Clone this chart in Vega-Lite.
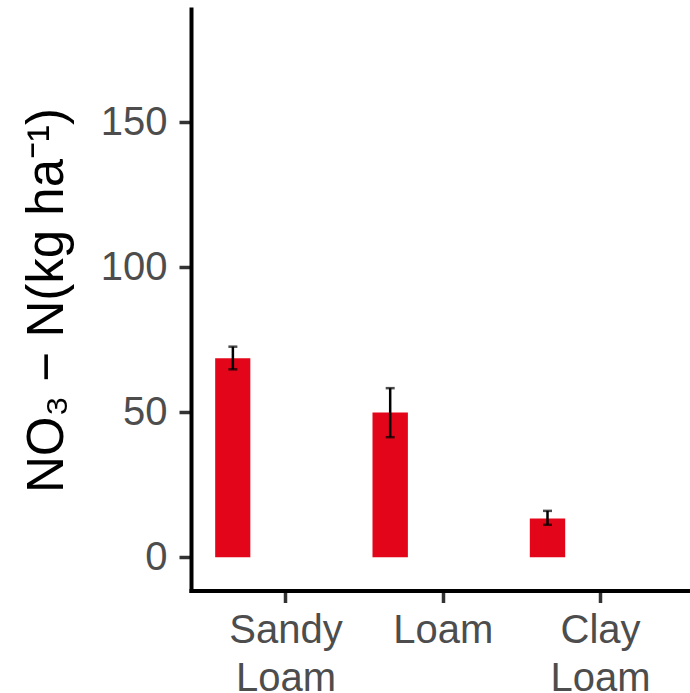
{
  "$schema": "https://vega.github.io/schema/vega-lite/v6.json",
  "width": 499,
  "height": 581.5,
  "autosize": "none",
  "padding": {"left": 191, "top": 9, "right": 0, "bottom": 102.5},
  "background": "white",
  "config": {"view": {"stroke": null}},
  "data": {
    "values": [
      {"soil": "Sandy Loam", "group": "a", "value": 68.6, "lo": 64.8, "hi": 72.6},
      {"soil": "Sandy Loam", "group": "b", "value": 135},
      {"soil": "Loam", "group": "a", "value": 49.9, "lo": 41.4, "hi": 58.3},
      {"soil": "Clay Loam", "group": "a", "value": 13.4, "lo": 11.2, "hi": 16.0}
    ]
  },
  "encoding": {
    "x": {
      "field": "soil",
      "type": "nominal",
      "sort": ["Sandy Loam", "Loam", "Clay Loam"],
      "scale": {"paddingInner": 0.1, "paddingOuter": 0.136, "align": 0.565},
      "axis": {
        "title": null,
        "labelAngle": 0,
        "labelFont": "Liberation Sans",
        "labelFontSize": 40,
        "labelColor": "#4D4D4D",
        "labelPadding": 8,
        "labelLineHeight": 48,
        "labelExpr": "datum.value == 'Sandy Loam' ? ['Sandy\u2005', '\u2005Loam'] : datum.value == 'Clay Loam' ? ['Clay\u2005', '\u2005Loam'] : datum.value",
        "tickSize": 12,
        "tickWidth": 3.5,
        "tickColor": "#333333",
        "domainColor": "black",
        "domainWidth": 4,
        "domainCap": "square",
        "grid": false
      }
    },
    "xOffset": {
      "field": "group",
      "type": "nominal",
      "scale": {"domain": ["a", "b", "c", "d"], "paddingInner": 0, "paddingOuter": 0}
    }
  },
  "layer": [
    {
      "mark": {"type": "bar"},
      "encoding": {
        "y": {
          "field": "value",
          "type": "quantitative",
          "scale": {"domain": [-11.45, 189], "nice": false, "zero": false},
          "axis": {
            "values": [0, 50, 100, 150],
            "grid": false,
            "labelFont": "Liberation Sans",
            "labelFontSize": 40,
            "labelColor": "#4D4D4D",
            "labelPadding": 12,
            "tickSize": 12,
            "tickWidth": 3.5,
            "tickColor": "#333333",
            "domainColor": "black",
            "domainWidth": 4,
            "domainCap": "square",
            "title": "NO₃ − N(kg ha⁻¹)",
            "titleFont": "Liberation Sans",
            "titleFontSize": 51,
            "titleFontWeight": "normal",
            "titleColor": "black",
            "titleAngle": -90,
            "titleX": -129,
            "titleY": 291,
            "titleAlign": "center",
            "titleBaseline": "alphabetic"
          }
        },
        "y2": {"datum": 0},
        "color": {
          "field": "group",
          "type": "nominal",
          "scale": {"domain": ["a", "b"], "range": ["#E3061A", "#FFFFFF"]},
          "legend": null
        }
      }
    },
    {
      "transform": [{"filter": "isValid(datum.lo)"}],
      "mark": {"type": "rule", "color": "black", "strokeWidth": 2.5},
      "encoding": {
        "y": {"field": "lo", "type": "quantitative"},
        "y2": {"field": "hi"}
      }
    },
    {
      "transform": [{"filter": "isValid(datum.lo)"}],
      "mark": {"type": "tick", "color": "black", "orient": "horizontal", "size": 9, "thickness": 2.5},
      "encoding": {
        "y": {"field": "lo", "type": "quantitative"}
      }
    },
    {
      "transform": [{"filter": "isValid(datum.hi)"}],
      "mark": {"type": "tick", "color": "black", "orient": "horizontal", "size": 9, "thickness": 2.5},
      "encoding": {
        "y": {"field": "hi", "type": "quantitative"}
      }
    }
  ]
}
